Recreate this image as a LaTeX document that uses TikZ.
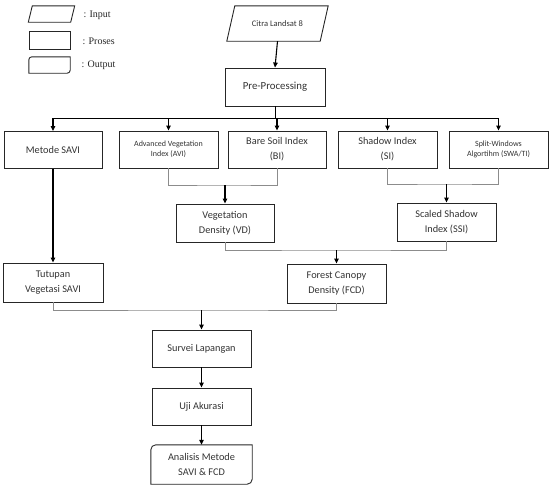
\documentclass[tikz,border=0pt]{standalone}
\usepackage{fontspec}
\setmainfont{Carlito}
\newfontfamily\legendfont{Liberation Serif}
\usetikzlibrary{arrows.meta}
\begin{document}
\begin{tikzpicture}[x=1pt,y=-1pt,
  box/.style={draw=black!85, line width=0.9pt, minimum height=37pt, inner sep=1pt, align=center,
    font=\fontsize{10.3}{15}\selectfont, text=black!80},
  plain/.style={draw=none, minimum height=37pt, inner sep=1pt, align=center,
    font=\fontsize{10.3}{15}\selectfont, text=black!80},
  small/.style={font=\fontsize{8}{10.5}\selectfont},
  outline/.style={draw=black!85, line width=0.9pt},
  arr/.style={draw=black, line width=1.1pt, -{Triangle[length=5pt,width=4.5pt]}},
  trunk/.style={draw=black, line width=1pt},
  bus/.style={draw=black!45, line width=0.8pt},
  leg/.style={anchor=west, font=\legendfont\fontsize{10}{12}\selectfont, text=black!85}]
\useasboundingbox (0,0) rectangle (555,485);

% legend
\node[plain, minimum width=42pt, minimum height=16pt] (lin) at (51.5,14) {};
\draw[outline] ([xshift=2pt]lin.north west) -- ([xshift=2pt]lin.north east) -- ([xshift=-2pt]lin.south east) -- ([xshift=-2pt]lin.south west) -- cycle;
\node[box, minimum width=41pt, minimum height=18pt] (lpr) at (49.5,40) {};
\node[plain, minimum width=41pt, minimum height=16pt] (lout) at (49.5,65) {};
\draw[outline] ([yshift=-3pt]lout.north west) arc[start angle=180,end angle=90,radius=3pt] -- (lout.north east) -- ([yshift=3pt]lout.south east) arc[start angle=0,end angle=-90,radius=3pt] -- (lout.south west) -- cycle;
\node[leg] (tin) at (80,15) {: Input};
\node[leg] (tpr) at (79,41) {: Proses};
\node[leg] (tout) at (78,65) {: Output};

% input
\node[plain, minimum width=93pt, minimum height=35pt, font=\fontsize{8.5}{10}\selectfont] (citra) at (277.5,23.5) {Citra Landsat 8};
\draw[outline] ([xshift=4pt]citra.north west) -- ([xshift=4pt]citra.north east) -- ([xshift=-4pt]citra.south east) -- ([xshift=-4pt]citra.south west) -- cycle;

\node[box, minimum width=100pt, minimum height=38pt, font=\fontsize{10.8}{13}\selectfont] (pre) at (275,87) {Pre-Processing};

% row 2
\node[box, minimum width=98pt] (savi) at (53,150) {Metode SAVI};
\node[box, small, minimum width=99pt] (avi) at (168.5,149.5) {Advanced Vegetation\\Index (AVI)};
\node[box, minimum width=98pt] (bi) at (277,149.5) {Bare Soil Index\\(BI)};
\node[box, minimum width=99pt] (si) at (387.5,149.5) {Shadow Index\\(SI)};
\node[box, small, minimum width=99pt] (swa) at (498.5,149.5) {Split-Windows\\Algortihm (SWA/TI)};

% row 3
\node[box, minimum width=98pt, minimum height=38pt] (vd) at (225,223) {Vegetation\\Density (VD)};
\node[box, minimum width=99pt, minimum height=38pt] (ssi) at (446.5,222) {Scaled Shadow\\Index (SSI)};

% row 4
\node[box, minimum width=100pt, minimum height=39pt] (tut) at (53,282.5) {Tutupan\\Vegetasi SAVI};
\node[box, minimum width=99pt, minimum height=39pt] (fcd) at (336.5,283.5) {Forest Canopy\\Density (FCD)};

% bottom chain
\node[box, minimum width=99pt] (sur) at (201.5,348.5) {Survei Lapangan};
\node[box, minimum width=99pt] (uji) at (201.5,406.5) {Uji Akurasi};
\node[plain, minimum width=101pt, minimum height=39pt] (ana) at (201.5,464.5) {Analisis Metode\\SAVI \& FCD};
\draw[outline] ([yshift=-5pt]ana.north west) arc[start angle=180,end angle=90,radius=5pt] -- (ana.north east) -- ([yshift=5pt]ana.south east) arc[start angle=0,end angle=-90,radius=5pt] -- (ana.south west) -- cycle;

% connectors
\draw[arr] (citra.south) -- (pre.north);
\coordinate (mb) at (275,118);
\draw[trunk] (pre.south) -- (mb);
\draw[trunk] (mb -| savi) -- (mb -| swa);
\foreach \n in {savi,avi,bi,si,swa} \draw[arr] (mb -| \n) -- (\n.north);

\coordinate (j1) at (225,185);
\draw[bus] (avi.south) |- (j1) -| (bi.south);
\draw[arr] (j1) -- (vd.north);

\coordinate (j2) at (446.5,184);
\draw[bus] (si.south) |- (j2) -| (swa.south);
\draw[arr] (j2) -- (ssi.north);

\coordinate (j3) at (336.5,250);
\draw[bus] (vd.south) |- (j3) -| (ssi.south);
\draw[arr] (j3) -- (fcd.north);

\draw[arr] (savi.south) -- (tut.north);

\coordinate (j4) at (201.5,310);
\draw[bus] (tut.south) |- (j4) -| (fcd.south);
\draw[arr] (j4) -- (sur.north);

\draw[arr] (sur.south) -- (uji.north);
\draw[arr] (uji.south) -- (ana.north);
\end{tikzpicture}
\end{document}
